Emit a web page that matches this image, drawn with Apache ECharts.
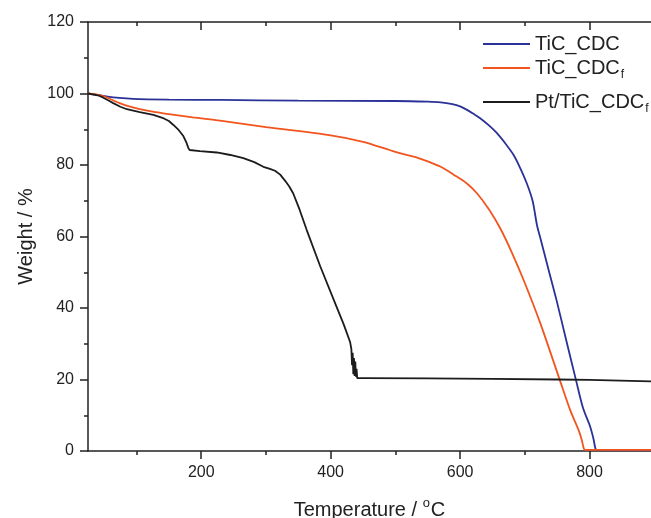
<!DOCTYPE html>
<html>
<head>
<meta charset="utf-8">
<script src="https://cdn.jsdelivr.net/npm/echarts/dist/echarts.min.js"></script>
<style>
html, body { margin: 0; padding: 0; background: #fff; }
#main { width: 651px; height: 518px; }
</style>
</head>
<body>
<div id="main"></div>
<script>
var seriesNames = ['TiC_CDC', 'TiC_CDC_f', 'Pt/TiC_CDC_f'];

// [temperature, weight %]
var tic = [[25, 100], [40, 99.6], [64, 98.9], [95, 98.5], [150, 98.3], [230, 98.2], [350, 98.0], [500, 97.9],
	[550, 97.7], [570, 97.5], [588, 97.0], [600, 96.4], [610, 95.5], [620, 94.4], [631, 93.1], [645, 91.0],
	[657, 88.9], [670, 86.0], [682, 83.0], [692, 79.5], [703, 74.9], [712, 70.0], [719, 63.0], [724, 59.6],
	[737, 50.5], [749, 42.2], [764, 31.0], [779, 19.9], [790, 12.0], [801, 6.8], [806, 3.5], [809, 0.8],
	[811, 0.3], [895, 0.3]];

var ticF = [[25, 100], [35, 99.8], [48, 99.3], [60, 98.4], [74, 97.3], [90, 96.3], [105, 95.6], [125, 94.9],
	[147, 94.3], [187, 93.3], [229, 92.4], [300, 90.6], [400, 88.3], [450, 86.5], [491, 84.2], [507, 83.3],
	[530, 82.3], [550, 81.0], [570, 79.5], [590, 77.3], [610, 74.9], [626, 72.1], [645, 67.5], [662, 62.3],
	[680, 55.5], [700, 47.0], [724, 35.7], [754, 19.9], [770, 11.5], [783, 5.9], [788, 3.1], [791, 0.8],
	[793, 0.3], [895, 0.3]];

var ptTicF = [[25, 100], [40, 99.5], [48, 98.9], [56, 98.1], [64, 97.3], [75, 96.3], [85, 95.6], [105, 94.8],
	[126, 94.0], [140, 93.2], [150, 92.3], [157, 91.2], [165, 89.8], [172, 88.2], [177.5, 86.1], [180, 84.8],
	[182, 84.2], [198, 83.9], [224, 83.5], [245, 82.8], [265, 81.9], [282, 80.8], [296, 79.5], [305, 79.0],
	[314, 78.4], [322, 77.3], [330, 75.5], [336, 74.0], [342, 72.1], [352, 67.5], [363, 61.8], [384, 51.6],
	[409, 40.4], [420, 35.5], [430, 30.5], [432, 28.5], [433, 24], [434, 27.5], [435, 21.5], [436, 26],
	[437, 21], [438, 25], [439, 20.8], [440, 23], [441, 20.4], [450, 20.4], [550, 20.3], [650, 20.2],
	[750, 20.0], [800, 19.9], [895, 19.5]];

var xMajor = [200, 400, 600, 800];
var xMinor = [100, 300, 500, 700];

var font = 'Liberation Sans, Arial, sans-serif';
var ink = '#222';
var colors = ['#2a3298', '#f2541e', '#1c1c1c'];

var chart = echarts.init(document.getElementById('main'));

function legendFor(name, top) {
	return {
		data: [name],
		left: 478,
		top: top,
		itemWidth: 47,
		itemHeight: 14,
		icon: 'path://M0,6 L47,6 L47,8 L0,8 Z',
		formatter: function (n) {
			return n.slice(-2) == '_f' ? n.slice(0, -2) + '{sub|f}' : n;
		},
		textStyle: {
			fontFamily: font,
			fontSize: 20,
			color: ink,
			rich: {
				sub: { fontSize: 12, fontFamily: font, color: ink, padding: [14, 0, 0, 1] }
			}
		}
	};
}

function xAx(pos, vals, len, inside, extra) {
	var a = {
		type: 'value',
		position: pos,
		min: 25,
		max: 895,
		axisLine: { show: false },
		axisTick: { show: true, inside: inside, length: len, customValues: vals, lineStyle: { color: ink, width: 1.5 } },
		axisLabel: { show: false },
		splitLine: { show: false }
	};
	for (var k in extra) a[k] = extra[k];
	return a;
}

var option = {
	animation: false,
	backgroundColor: '#fff',
	grid: { left: 88, top: 22, right: 0, bottom: 67, containLabel: false, outerBoundsMode: 'none' },
	legend: [legendFor(seriesNames[0], 29), legendFor(seriesNames[1], 53), legendFor(seriesNames[2], 87)],
	xAxis: [
		xAx('bottom', xMajor, 8, false, {
			axisLine: { show: true, lineStyle: { color: ink, width: 1.5 } },
			axisLabel: { show: true, customValues: xMajor, margin: 14, fontFamily: font, fontSize: 16, color: ink },
			name: 'Temperature / {sup|o}C',
			nameLocation: 'middle',
			nameGap: 46,
			nameTextStyle: {
				fontFamily: font, fontSize: 20, color: ink,
				rich: { sup: { fontFamily: font, fontSize: 13, color: ink, padding: [0, 1, 14, 0] } }
			}
		}),
		xAx('bottom', xMinor, 4, false, {}),
		xAx('top', xMajor, 8, true, { axisLine: { show: true, lineStyle: { color: ink, width: 1.5 } } }),
		xAx('top', xMinor, 4, true, {})
	],
	yAxis: {
		type: 'value',
		min: 0,
		max: 120,
		interval: 20,
		axisLine: { show: true, lineStyle: { color: ink, width: 1.5 } },
		axisTick: { show: true, length: 8, lineStyle: { color: ink, width: 1.5 } },
		minorTick: { show: true, splitNumber: 2, length: 4, lineStyle: { color: ink, width: 1.5 } },
		axisLabel: { margin: 14, fontFamily: font, fontSize: 16, color: ink },
		splitLine: { show: false },
		name: 'Weight / %',
		nameLocation: 'middle',
		nameGap: 47,
		nameTextStyle: { fontFamily: font, fontSize: 20, color: ink }
	},
	series: [
		{ name: seriesNames[0], type: 'line', data: tic, showSymbol: false, symbol: 'none', smooth: 0.3, color: colors[0], lineStyle: { width: 1.8 } },
		{ name: seriesNames[1], type: 'line', data: ticF, showSymbol: false, symbol: 'none', smooth: 0.3, color: colors[1], lineStyle: { width: 1.8 } },
		{ name: seriesNames[2], type: 'line', data: ptTicF, showSymbol: false, symbol: 'none', color: colors[2], lineStyle: { width: 1.8 } }
	]
};

chart.setOption(option);
</script>
</body>
</html>
